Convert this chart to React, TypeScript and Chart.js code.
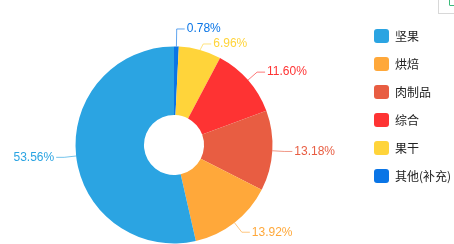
import React, { useEffect, useRef } from 'react';
import { Chart, registerables } from 'chart.js';

Chart.register(...registerables);

// ---- data (legend order) ----
const categories = ['坚果', '烘焙', '肉制品', '综合', '果干', '其他(补充)'];
const shares = [53.56, 13.92, 13.18, 11.6, 6.96, 0.78];
const colors = ['#2BA4E2', '#FFA83A', '#E85D42', '#FE3333', '#FFD43A', '#0A75E6'];

// ---- layout constants ----
const SHIFT_X = 20; // canvas is shifted left by this many px
const CW = 474;
const CH = 290;
const LEN1 = 12;
const LEN2 = 8;
const GAP = 2;
const ROW = 15;

function withAlpha(hex: string, a: number) {
  const n = parseInt(hex.slice(1), 16);
  return `rgba(${(n >> 16) & 255},${(n >> 8) & 255},${n & 255},${a})`;
}

const outLabels = {
  id: 'outLabels',
  afterDatasetsDraw(chart: any) {
    const meta = chart.getDatasetMeta(0);
    const ds = chart.data.datasets[0];
    const ctx = chart.ctx;
    const items = meta.data.map((el: any, i: number) => {
      const p = el.getProps(['x', 'y', 'startAngle', 'endAngle', 'outerRadius'], true);
      const mid = (p.startAngle + p.endAngle) / 2;
      const c = Math.cos(mid);
      const s = Math.sin(mid);
      return {
        i,
        dir: c >= 0 ? 1 : -1,
        x1: p.x + p.outerRadius * c,
        y1: p.y + p.outerRadius * s,
        x2: p.x + (p.outerRadius + LEN1) * c,
        y2: p.y + (p.outerRadius + LEN1) * s,
        ly: p.y + (p.outerRadius + LEN1) * s,
      };
    });
    [1, -1].forEach((dir) => {
      const side = items.filter((it: any) => it.dir === dir).sort((a: any, b: any) => a.y2 - b.y2);
      const groups: any[][] = [];
      const top = (g: any[]) => g.reduce((sum, it, k) => sum + it.y2 - k * ROW, 0) / g.length;
      side.forEach((it: any) => {
        groups.push([it]);
        while (groups.length > 1) {
          const g = groups[groups.length - 1];
          const p = groups[groups.length - 2];
          if (top(p) + p.length * ROW > top(g)) {
            groups.pop();
            groups[groups.length - 1] = p.concat(g);
          } else break;
        }
      });
      groups.forEach((g) => {
        const t = top(g);
        g.forEach((it, k) => (it.ly = t + k * ROW));
      });
    });
    ctx.save();
    ctx.font = '12px "Liberation Sans", Arial, sans-serif';
    ctx.textBaseline = 'middle';
    items.forEach((it: any) => {
      const color = ds.backgroundColor[it.i];
      const x3 = it.x2 + it.dir * LEN2;
      ctx.strokeStyle = withAlpha(color, 0.65);
      ctx.lineWidth = 1;
      ctx.beginPath();
      ctx.moveTo(it.x1, it.y1);
      ctx.lineTo(it.x2, it.ly);
      ctx.lineTo(x3, it.ly);
      ctx.stroke();
      ctx.fillStyle = color;
      ctx.textAlign = it.dir > 0 ? 'left' : 'right';
      ctx.fillText(Number(ds.data[it.i]).toFixed(2) + '%', x3 + it.dir * GAP, it.ly);
    });
    ctx.restore();
  },
};

export default function App() {
  const ref = useRef<HTMLCanvasElement | null>(null);

  useEffect(() => {
    if (!ref.current) return;
    // chart draws clockwise from the top; the reference runs the legend order counter-clockwise
    const order = categories.map((_, i) => i).reverse();
    const chart = new Chart(ref.current, {
      type: 'doughnut',
      data: {
        labels: order.map((i) => categories[i]),
        datasets: [
          {
            data: order.map((i) => shares[i]),
            backgroundColor: order.map((i) => colors[i]),
            borderWidth: 0,
            hoverOffset: 0,
          },
        ],
      },
      options: {
        responsive: false,
        animation: false,
        devicePixelRatio: 1,
        radius: 98.5,
        cutout: '30.5%',
        layout: { padding: { left: 8, right: 4, top: 15, bottom: 15 } },
        plugins: {
          tooltip: { enabled: false },
          legend: {
            position: 'right',
            align: 'start',
            labels: {
              boxWidth: 15,
              boxHeight: 14,
              padding: 14,
              color: '#222',
              font: { family: '"Noto Sans CJK SC", sans-serif', size: 12 },
              generateLabels: (c: any) => {
                const base = (Chart as any).overrides.doughnut.plugins.legend.labels.generateLabels(c);
                return base.map((b: any) => ({ ...b, borderRadius: 3, lineWidth: 0 })).reverse();
              },
            },
          },
        },
      } as any,
      plugins: [outLabels],
    });
    // align the legend so its first box starts where the reference's does
    const targetLeft = 380;
    const dl = (chart as any).legend.left - targetLeft;
    if (Math.abs(dl) > 0.5) {
      (chart.options as any).layout.padding.right += dl;
      chart.update();
    }
    return () => chart.destroy();
  }, []);

  return (
    <div style={{ position: 'fixed', left: 0, top: 0, width: 454, height: 244, overflow: 'hidden', background: '#fff' }}>
      <div style={{ position: 'absolute', left: -SHIFT_X, top: 0, width: CW, height: CH }}>
        <canvas ref={ref} width={CW} height={CH} style={{ display: 'block', width: CW, height: CH }} />
      </div>
      <div
        style={{
          position: 'absolute',
          left: 438,
          top: -1,
          width: 20,
          height: 14,
          borderLeft: '1px solid #d8d8d8',
          borderBottom: '1px solid #d8d8d8',
        }}
      />
      <div
        style={{
          position: 'absolute',
          left: 449,
          top: -4,
          width: 8,
          height: 8,
          border: '1.5px solid #3cb97a',
          borderRadius: 1,
        }}
      />
    </div>
  );
}
